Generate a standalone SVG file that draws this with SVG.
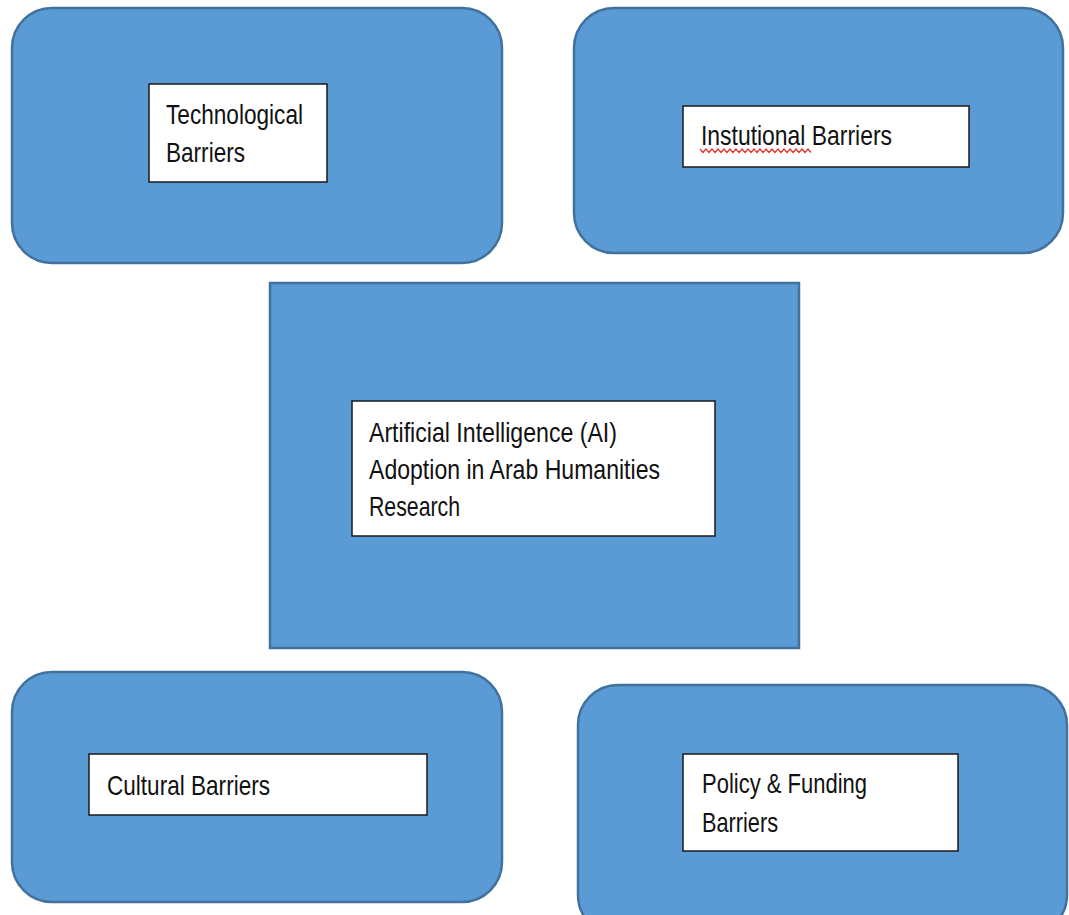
<svg xmlns="http://www.w3.org/2000/svg" width="1069" height="915" viewBox="0 0 1069 915">
<style>
.outer{fill:#5B9BD5;stroke:#41719C;stroke-width:2.5}
.inner{fill:#FFFFFF;stroke:#1a1a1a;stroke-width:1.5}
.lbl{font-family:"Liberation Sans",Arial,sans-serif;font-size:28px;fill:#111111}
.squig{fill:none;stroke:#E8302A;stroke-width:1.3}
</style>
<rect width="1069" height="915" fill="#FFFFFF"/>
<g id="connectors"></g>
<g id="technological">
<rect class="outer" x="12" y="8" width="490" height="255" rx="40" ry="40"/>
<rect class="inner" x="149" y="84" width="178" height="98"/>
<text class="lbl" x="166" y="124" textLength="137" lengthAdjust="spacingAndGlyphs">Technological</text>
<text class="lbl" x="166" y="162" textLength="79" lengthAdjust="spacingAndGlyphs">Barriers</text>
</g>
<g id="institutional">
<rect class="outer" x="574" y="8" width="489" height="245" rx="40" ry="40"/>
<rect class="inner" x="683" y="106" width="286" height="61"/>
<text class="lbl" x="701" y="145" textLength="191" lengthAdjust="spacingAndGlyphs">Instutional Barriers</text>
<path class="squig" d="M700 149 l3 3.5 l3 -3.5 l3 3.5 l3 -3.5 l3 3.5 l3 -3.5 l3 3.5 l3 -3.5 l3 3.5 l3 -3.5 l3 3.5 l3 -3.5 l3 3.5 l3 -3.5 l3 3.5 l3 -3.5 l3 3.5 l3 -3.5 l3 3.5 l3 -3.5 l3 3.5 l3 -3.5 l3 3.5 l3 -3.5 l3 3.5 l3 -3.5 l3 3.5 l3 -3.5 l3 3.5 l3 -3.5 l3 3.5 l3 -3.5 l3 3.5 l3 -3.5 l3 3.5 l3 -3.5 l3 3.5"/>
</g>
<g id="center">
<rect class="outer" x="270" y="283" width="529" height="365"/>
<rect class="inner" x="352" y="401" width="363" height="135"/>
<text class="lbl" x="369" y="442" textLength="248" lengthAdjust="spacingAndGlyphs">Artificial Intelligence (AI)</text>
<text class="lbl" x="369" y="479" textLength="291" lengthAdjust="spacingAndGlyphs">Adoption in Arab Humanities</text>
<text class="lbl" x="369" y="516" textLength="91" lengthAdjust="spacingAndGlyphs">Research</text>
</g>
<g id="cultural">
<rect class="outer" x="12" y="672" width="490" height="230" rx="40" ry="40"/>
<rect class="inner" x="89" y="754" width="338" height="61"/>
<text class="lbl" x="107" y="795" textLength="163" lengthAdjust="spacingAndGlyphs">Cultural Barriers</text>
</g>
<g id="policy">
<rect class="outer" x="578" y="685" width="489" height="250" rx="40" ry="40"/>
<rect class="inner" x="683" y="754" width="275" height="97"/>
<text class="lbl" x="702" y="793" textLength="165" lengthAdjust="spacingAndGlyphs">Policy &amp; Funding</text>
<text class="lbl" x="702" y="832" textLength="76" lengthAdjust="spacingAndGlyphs">Barriers</text>
</g>
</svg>
